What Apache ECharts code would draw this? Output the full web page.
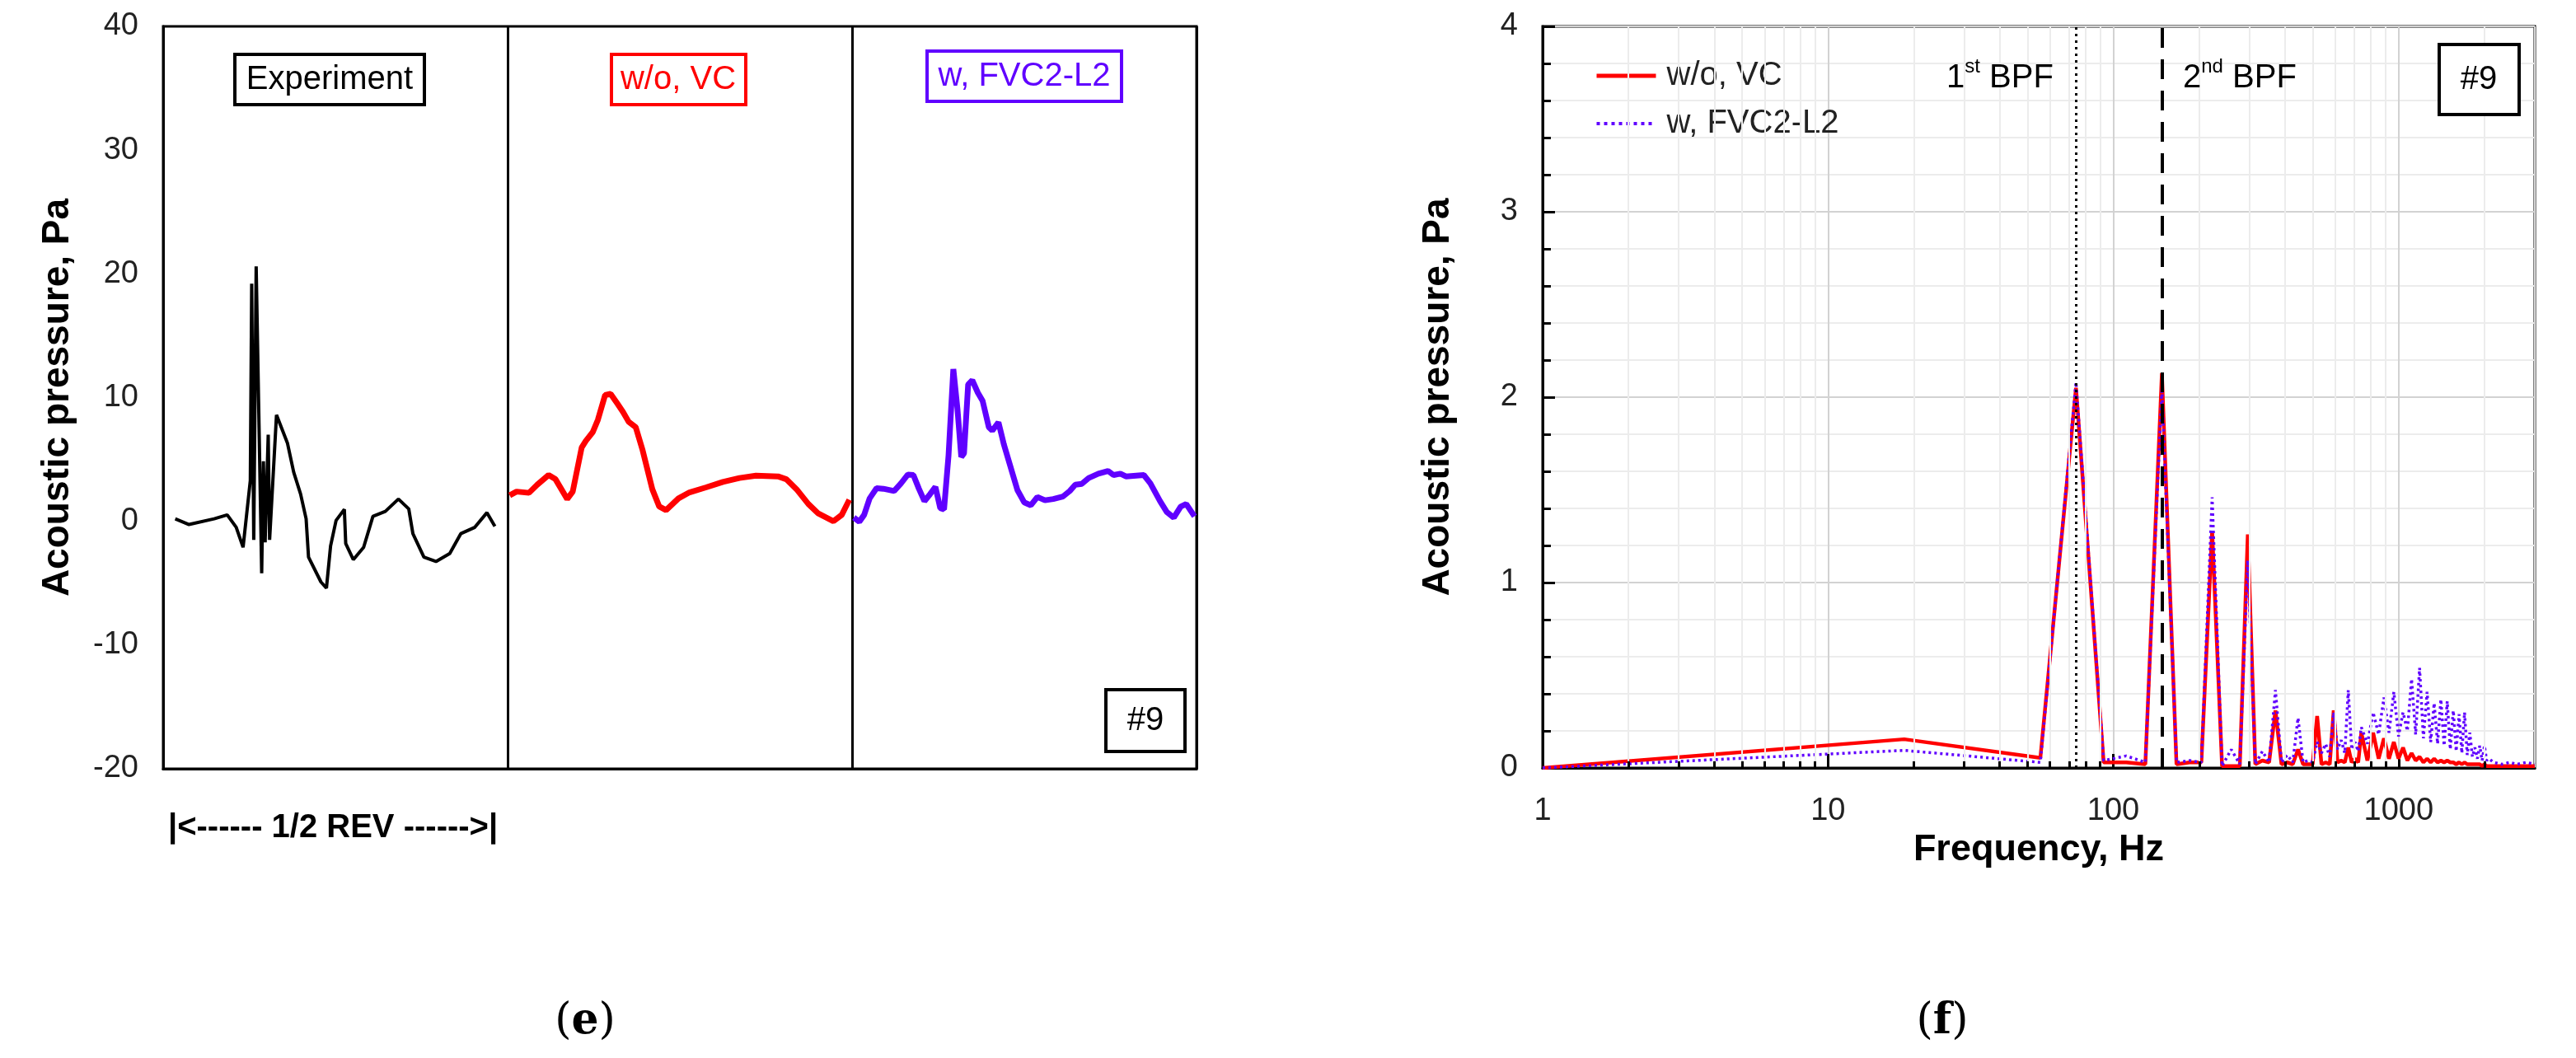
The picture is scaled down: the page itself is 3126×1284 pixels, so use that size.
<!DOCTYPE html>
<html>
<head>
<meta charset="utf-8">
<script src="https://cdn.jsdelivr.net/npm/echarts@6/dist/echarts.min.js"></script>
<style>
html,body{margin:0;padding:0;background:#fff}
#chart{width:3126px;height:1284px}
</style>
</head>
<body>
<div id="chart"></div>
<script>
// (e) pressure over half a revolution, three panels side by side (x: 0-1, 1-2, 2-3)
var expCurve = [
	[0.035,0.2],[0.075,-0.26],[0.148,0.2],[0.186,0.52],[0.212,-0.48],[0.232,-2.1],[0.253,3.3],[0.257,19.2],
	[0.263,-1.5],[0.270,20.6],[0.286,-4.2],[0.291,4.85],[0.296,-1.7],[0.305,7.0],[0.309,-1.5],[0.329,8.6],
	[0.361,6.3],[0.379,3.96],[0.399,2.2],[0.415,0.2],[0.422,-2.9],[0.458,-4.9],[0.474,-5.4],[0.486,-2.0],
	[0.502,0.07],[0.526,0.97],[0.530,-1.8],[0.552,-3.1],[0.582,-2.1],[0.609,0.4],[0.645,0.8],[0.683,1.8],
	[0.713,1.0],[0.725,-1.0],[0.757,-2.9],[0.792,-3.25],[0.832,-2.6],[0.864,-1.0],[0.904,-0.5],[0.940,0.7],[0.963,-0.4]
];
var woVCCurve = [
	[1.006,2.1],[1.026,2.4],[1.062,2.3],[1.086,2.96],[1.119,3.74],[1.139,3.4],[1.173,1.8],[1.189,2.4],
	[1.215,5.96],[1.227,6.5],[1.247,7.2],[1.262,8.2],[1.283,10.2],[1.299,10.3],[1.319,9.5],[1.335,8.84],
	[1.351,8.06],[1.372,7.6],[1.392,5.73],[1.420,2.6],[1.440,1.2],[1.460,0.9],[1.496,1.85],[1.528,2.34],
	[1.576,2.74],[1.625,3.18],[1.673,3.5],[1.721,3.69],[1.785,3.63],[1.809,3.4],[1.841,2.52],[1.873,1.4],
	[1.902,0.63],[1.946,0.01],[1.970,0.52],[1.992,1.74]
];
var fvcCurve = [
	[2.005,0.3],[2.021,-0.03],[2.035,0.52],[2.051,1.85],[2.071,2.67],[2.091,2.63],[2.122,2.45],[2.142,3.07],
	[2.162,3.78],[2.178,3.74],[2.194,2.63],[2.210,1.63],[2.226,2.18],[2.242,2.78],[2.256,1.07],[2.267,0.97],
	[2.280,5.3],[2.294,12.3],[2.306,9.06],[2.317,5.2],[2.325,5.5],[2.337,11.06],[2.349,11.4],[2.365,10.4],
	[2.379,9.73],[2.397,7.6],[2.407,7.33],[2.425,8.0],[2.441,6.18],[2.480,2.52],[2.500,1.52],[2.519,1.3],
	[2.538,1.97],[2.560,1.7],[2.584,1.8],[2.612,2.0],[2.632,2.45],[2.648,2.96],[2.667,3.03],[2.687,3.5],
	[2.715,3.85],[2.743,4.07],[2.759,3.74],[2.779,3.85],[2.795,3.63],[2.847,3.74],[2.866,3.07],[2.894,1.63],
	[2.914,0.74],[2.934,0.3],[2.954,1.19],[2.970,1.4],[2.994,0.4]
];

// (f) spectrum
var specHz = [1, 18.5, 55.5, 74, 92.5, 111, 129.5, 148, 166.5, 185, 203.5, 222, 240.5, 259, 277.5, 296,
	314.5, 333, 351.5, 370, 388.5, 407, 425.5, 444, 462.5, 481, 499.5, 518, 536.5, 555, 573.5, 592,
	610.5, 629, 647.5, 666, 684.5, 703, 721.5, 740,
	777, 814, 851, 888, 925, 962, 999, 1036, 1073, 1110, 1147, 1184, 1221, 1258, 1295, 1332, 1369, 1406,
	1443, 1480, 1517, 1554, 1591, 1628, 1665, 1702, 1739, 1776, 1813, 1850, 1887, 1924, 1961, 1998, 2035, 2072,
	2150, 2300, 2450, 2600, 2800, 3000];
var woVCSpec = [0, 0.155, 0.054, 2.05, 0.03, 0.03, 0.02, 2.13, 0.02, 0.03, 0.03, 1.28, 0.01, 0.01, 0.01, 1.26,
	0.02, 0.04, 0.03, 0.31, 0.02, 0.03, 0.02, 0.10, 0.02, 0.02, 0.02, 0.28, 0.02, 0.03, 0.02, 0.31,
	0.03, 0.04, 0.03, 0.11, 0.03, 0.05, 0.03, 0.19,
	0.04, 0.19, 0.05, 0.16, 0.05, 0.14, 0.05, 0.11, 0.04, 0.08, 0.04, 0.06, 0.03, 0.05, 0.03, 0.05, 0.03, 0.04,
	0.03, 0.04, 0.03, 0.03, 0.02, 0.03, 0.02, 0.03, 0.02, 0.02, 0.02, 0.02, 0.02, 0.02, 0.01, 0.02, 0.01, 0.01,
	0.01, 0.01, 0.01, 0.01, 0.01, 0.01];
var fvcSpec = [0, 0.095, 0.03, 2.08, 0.04, 0.065, 0.03, 2.05, 0.03, 0.04, 0.03, 1.46, 0.01, 0.10, 0.02, 1.12,
	0.02, 0.09, 0.03, 0.42, 0.03, 0.07, 0.03, 0.27, 0.03, 0.04, 0.03, 0.14, 0.08, 0.13, 0.06, 0.30,
	0.10, 0.15, 0.08, 0.42, 0.10, 0.14, 0.09, 0.22,
	0.13, 0.30, 0.18, 0.38, 0.19, 0.41, 0.17, 0.30, 0.20, 0.48, 0.18, 0.54, 0.16, 0.41, 0.14, 0.35, 0.13, 0.37,
	0.12, 0.36, 0.10, 0.31, 0.09, 0.29, 0.08, 0.30, 0.07, 0.19, 0.06, 0.11, 0.05, 0.12, 0.04, 0.12, 0.04, 0.05,
	0.03, 0.02, 0.03, 0.02, 0.03, 0.02];
var bpfHz = [74, 148];
var minorHz = [2,3,4,5,6,7,8,9,20,30,40,50,60,70,80,90,200,300,400,500,600,700,800,900,2000];

var FONT = 'Liberation Sans';
var PURPLE = '#6000ff';

function pairs(xs, ys){
	var out = [];
	for(var i = 0; i < xs.length; i++){
		out.push([xs[i], ys[i]]);
	}
	return out;
}

var minorGrid = minorHz.map(function(f){ return {xAxis: f}; });
var minorTicks = minorHz.map(function(f){ return [{coord: [f, 0]}, {coord: [f, 0.036]}]; });

var chart = echarts.init(document.getElementById('chart'));

var option = {
	backgroundColor: '#fff',
	animation: false,
	grid: [
		{left: 198, top: 32, width: 1254, height: 901, show: true, borderColor: '#000', borderWidth: 3, outerBoundsMode: 'none'},
		{left: 1872, top: 32, width: 1204, height: 900, show: true, borderColor: '#000', borderWidth: 3, outerBoundsMode: 'none'}
	],
	xAxis: [
		{
			gridIndex: 0, type: 'value', min: 0, max: 3, interval: 1,
			axisLabel: {show: false},
			axisTick: {show: false},
			axisLine: {onZero: false, lineStyle: {color: '#000', width: 3}},
			splitLine: {show: true, lineStyle: {color: '#000', width: 3}}
		},
		{
			gridIndex: 1, type: 'log', logBase: 10, min: 1, max: 3000,
			name: 'Frequency, Hz', nameLocation: 'middle', nameGap: 73,
			nameTextStyle: {fontFamily: FONT, fontSize: 45, fontWeight: 'bold', color: '#000'},
			axisLine: {onZero: false, lineStyle: {color: '#000', width: 3}},
			axisTick: {inside: true, length: 17, lineStyle: {color: '#000', width: 3}},
			axisLabel: {
				fontFamily: FONT, fontSize: 38, color: '#222', margin: 34, showMaxLabel: false,
				formatter: function(v){ return String(Math.round(v)); }
			},
			splitLine: {show: true, lineStyle: {color: '#d2d2d2', width: 2}}
		}
	],
	yAxis: [
		{
			gridIndex: 0, type: 'value', min: -20, max: 40, interval: 10,
			name: 'Acoustic pressure, Pa', nameLocation: 'middle', nameGap: 105,
			nameTextStyle: {fontFamily: FONT, fontSize: 46, fontWeight: 'bold', color: '#000'},
			axisLine: {show: true, lineStyle: {color: '#000', width: 3}},
			axisTick: {show: false},
			axisLabel: {fontFamily: FONT, fontSize: 38, color: '#222', margin: 30},
			splitLine: {show: false}
		},
		{
			gridIndex: 1, type: 'value', min: 0, max: 4, interval: 1,
			name: 'Acoustic pressure, Pa', nameLocation: 'middle', nameGap: 104,
			nameTextStyle: {fontFamily: FONT, fontSize: 46, fontWeight: 'bold', color: '#000'},
			axisLine: {show: true, lineStyle: {color: '#000', width: 3}},
			axisTick: {inside: true, length: 15, lineStyle: {color: '#000', width: 3}},
			minorTick: {show: true, splitNumber: 5, length: 10, lineStyle: {color: '#000', width: 3}},
			axisLabel: {fontFamily: FONT, fontSize: 38, color: '#222', margin: 30},
			splitLine: {show: true, lineStyle: {color: '#d2d2d2', width: 2}},
			minorSplitLine: {show: true, lineStyle: {color: '#ececec', width: 2}}
		}
	],
	legend: {
		data: [
			{name: 'w/o, VC', lineStyle: {color: '#ff0000', width: 5, type: 'solid'}},
			{name: 'w, FVC2-L2', lineStyle: {color: PURPLE, width: 4, type: [4, 5]}}
		],
		orient: 'vertical',
		left: 1930, top: 67,
		itemWidth: 72, itemHeight: 14, itemGap: 18,
		selectedMode: false,
		itemStyle: {opacity: 0, borderWidth: 0},
		textStyle: {fontFamily: FONT, fontSize: 40, color: '#222', padding: [0, 0, 0, 8]}
	},
	series: [
		{
			type: 'line', xAxisIndex: 0, yAxisIndex: 0, data: expCurve, symbol: 'none', silent: true,
			lineStyle: {color: '#000', width: 4}, z: 3
		},
		{
			type: 'line', xAxisIndex: 0, yAxisIndex: 0, data: woVCCurve, symbol: 'none', silent: true,
			lineStyle: {color: '#ff0000', width: 7}, z: 3
		},
		{
			type: 'line', xAxisIndex: 0, yAxisIndex: 0, data: fvcCurve, symbol: 'none', silent: true,
			lineStyle: {color: PURPLE, width: 7}, z: 3
		},
		// minor log grid lines
		{
			type: 'line', xAxisIndex: 1, yAxisIndex: 1, data: [], symbol: 'none', silent: true, z: 1,
			markLine: {
				silent: true, symbol: 'none', label: {show: false},
				lineStyle: {color: '#ececec', width: 2, type: 'solid'},
				data: minorGrid
			}
		},
		{
			name: 'w/o, VC', type: 'line', xAxisIndex: 1, yAxisIndex: 1, data: pairs(specHz, woVCSpec),
			symbol: 'none', silent: true, z: 3,
			itemStyle: {color: '#ff0000'},
			lineStyle: {color: '#ff0000', width: 4.5}
		},
		{
			name: 'w, FVC2-L2', type: 'line', xAxisIndex: 1, yAxisIndex: 1, data: pairs(specHz, fvcSpec),
			symbol: 'none', silent: true, z: 4,
			itemStyle: {color: PURPLE},
			lineStyle: {color: PURPLE, width: 3.5, type: [3, 4]}
		},
		// blade passing frequencies and bottom minor ticks
		{
			type: 'line', xAxisIndex: 1, yAxisIndex: 1, data: [], symbol: 'none', silent: true, z: 5,
			markLine: {
				silent: true, symbol: 'none', label: {show: false},
				lineStyle: {color: '#000', width: 3, type: 'solid'},
				data: [
					{xAxis: bpfHz[0], lineStyle: {color: '#000', width: 3, type: [3, 5]}},
					{xAxis: bpfHz[1], lineStyle: {color: '#000', width: 4, type: [24, 14]}}
				].concat(minorTicks)
			}
		}
	],
	graphic: [
		{type: 'rect', shape: {x: 285, y: 66, width: 230, height: 61}, style: {fill: '#fff', stroke: '#000', lineWidth: 4}},
		{type: 'text', style: {text: 'Experiment', x: 400, y: 97, fontFamily: FONT, fontSize: 40, fill: '#000', textAlign: 'center', textVerticalAlign: 'middle'}},
		{type: 'rect', shape: {x: 742, y: 66, width: 163, height: 61}, style: {fill: '#fff', stroke: '#ff0000', lineWidth: 4}},
		{type: 'text', style: {text: 'w/o, VC', x: 823, y: 97, fontFamily: FONT, fontSize: 40, fill: '#ff0000', textAlign: 'center', textVerticalAlign: 'middle'}},
		{type: 'rect', shape: {x: 1125, y: 62, width: 236, height: 61}, style: {fill: '#fff', stroke: PURPLE, lineWidth: 4}},
		{type: 'text', style: {text: 'w, FVC2-L2', x: 1243, y: 93, fontFamily: FONT, fontSize: 40, fill: PURPLE, textAlign: 'center', textVerticalAlign: 'middle'}},
		{type: 'rect', shape: {x: 1342, y: 837, width: 96, height: 75}, style: {fill: '#fff', stroke: '#000', lineWidth: 4}},
		{type: 'text', style: {text: '#9', x: 1390, y: 875, fontFamily: FONT, fontSize: 40, fill: '#000', textAlign: 'center', textVerticalAlign: 'middle'}},
		{type: 'text', style: {text: '|<------ 1/2 REV ------>|', x: 204, y: 1005, fontFamily: FONT, fontSize: 40, fontWeight: 'bold', fill: '#000', textAlign: 'left', textVerticalAlign: 'middle'}},

		{type: 'rect', z: 10, shape: {x: 2960, y: 54, width: 97, height: 85}, style: {fill: '#fff', stroke: '#000', lineWidth: 4}},
		{type: 'text', z: 11, style: {text: '#9', x: 3008, y: 97, fontFamily: FONT, fontSize: 40, fill: '#000', textAlign: 'center', textVerticalAlign: 'middle'}},
		{type: 'text', z: 11, style: {
			text: '{a|1}{b|st}{a| BPF}', x: 2362, y: 92, textAlign: 'left', textVerticalAlign: 'middle',
			rich: {
				a: {fontFamily: FONT, fontSize: 40, fill: '#000', color: '#000', lineHeight: 46, verticalAlign: 'bottom'},
				b: {fontFamily: FONT, fontSize: 24, fill: '#000', color: '#000', verticalAlign: 'top'}
			}
		}},
		{type: 'text', z: 11, style: {
			text: '{a|2}{b|nd}{a| BPF}', x: 2649, y: 92, textAlign: 'left', textVerticalAlign: 'middle',
			rich: {
				a: {fontFamily: FONT, fontSize: 40, fill: '#000', color: '#000', lineHeight: 46, verticalAlign: 'bottom'},
				b: {fontFamily: FONT, fontSize: 24, fill: '#000', color: '#000', verticalAlign: 'top'}
			}
		}},

		{type: 'text', style: {
			text: '{p|(}{b|e}{p|)}', x: 710, y: 1240, textAlign: 'center', textVerticalAlign: 'middle',
			rich: {
				p: {fontFamily: 'DejaVu Serif', fontSize: 52, fill: '#000', color: '#000'},
				b: {fontFamily: 'DejaVu Serif', fontSize: 52, fontWeight: 'bold', fill: '#000', color: '#000'}
			}
		}},
		{type: 'text', style: {
			text: '{p|(}{b|f}{p|)}', x: 2357, y: 1240, textAlign: 'center', textVerticalAlign: 'middle',
			rich: {
				p: {fontFamily: 'DejaVu Serif', fontSize: 52, fill: '#000', color: '#000'},
				b: {fontFamily: 'DejaVu Serif', fontSize: 52, fontWeight: 'bold', fill: '#000', color: '#000'}
			}
		}}
	]
};
chart.setOption(option);
</script>
</body>
</html>
